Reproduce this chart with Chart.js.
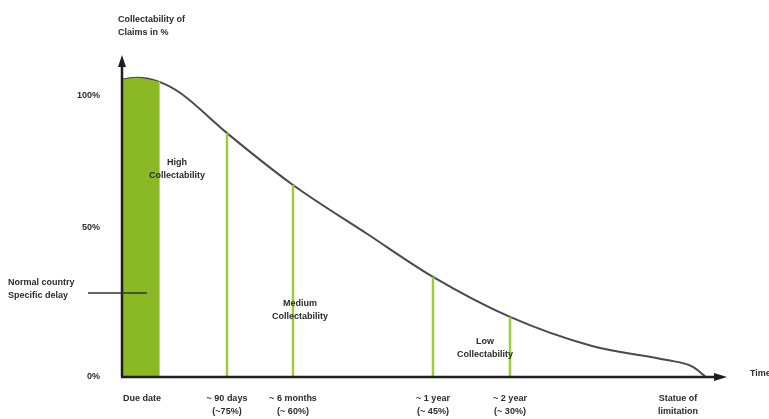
<!DOCTYPE html>
<html>
<head>
<meta charset="utf-8">
<script src="https://cdn.jsdelivr.net/npm/chart.js@4.4.0/dist/chart.umd.min.js"></script>
<style>
  body { margin: 0; background: #fff; }
  canvas { display: block; }
</style>
</head>
<body>
<canvas id="collectChart" width="769" height="419"></canvas>
<script>
// time axis is in arbitrary units (no real scale in the original diagram)
const curveX = [0, 15, 38, 58, 105, 171, 245, 311, 388, 470, 545, 570, 584];
const curveY = [105.5, 106.1, 104.6, 100.8, 86.5, 68.1, 50.8, 35.5, 21.3, 11.0, 6.0, 3.8, 0];

// green "normal delay" block
const delayX = [0, 15, 37];
const delayY = [105.5, 106.1, 104.7];

// vertical markers
const markerX = [105, 171, 311, 388];
const markerY = [86.5, 68.1, 35.5, 21.3];

// bottom labels
const timeTickX = [20, 105, 171, 311, 388, 556];
const timeTickLabels = [
    ['Due date'],
    ['~ 90 days', '(~75%)'],
    ['~ 6 months', '(~ 60%)'],
    ['~ 1 year', '(~ 45%)'],
    ['~ 2 year', '(~ 30%)'],
    ['Statue of', 'limitation']
];

// y labels
const yTickValues = [0, 53, 100];
const yTickLabels = ['0%', '50%', '100%'];

// region labels
const regionLabels = [['High', 'Collectability'], ['Medium', 'Collectability'], ['Low', 'Collectability']];
const regionAt = [[55, 76], [178, 26], [363, 12.5]];

const FONT = 'bold 9px "Liberation Sans", Arial, sans-serif';
const TEXT = '#2b2b2b';

const toPts = (xs, ys) => xs.map((x, i) => ({ x: x, y: ys[i] }));

const datasets = [
    {
        data: toPts(delayX, delayY),
        borderWidth: 0,
        backgroundColor: '#8ab925',
        fill: 'origin',
        pointRadius: 0,
        cubicInterpolationMode: 'monotone'
    },
    {
        data: [{ x: 37, y: 0 }, { x: 37, y: 104.7 }],
        borderColor: '#b8dc63',
        borderWidth: 2,
        pointRadius: 0
    }
];

markerX.forEach((x, i) => {
    datasets.push({
        data: [{ x: x, y: 0 }, { x: x, y: markerY[i] }],
        borderColor: '#9ccd3a',
        borderWidth: 2.5,
        pointRadius: 0
    });
});

datasets.push({
    data: toPts(curveX, curveY),
    borderColor: '#4a4a4a',
    borderWidth: 2,
    pointRadius: 0,
    fill: false,
    cubicInterpolationMode: 'monotone'
});

const annotate = {
    id: 'annotate',
    afterDatasetsDraw(chart) {
        const ctx = chart.ctx;
        const xs = chart.scales.x, ys = chart.scales.y;
        const x0 = xs.getPixelForValue(0), y0 = ys.getPixelForValue(0);
        const top = chart.chartArea.top, right = chart.chartArea.right;

        ctx.save();
        // axes
        ctx.strokeStyle = '#1e1e1e';
        ctx.fillStyle = '#1e1e1e';
        ctx.lineWidth = 2.5;
        ctx.beginPath();
        ctx.moveTo(x0, y0);
        ctx.lineTo(x0, top + 8);
        ctx.moveTo(x0 - 1, y0);
        ctx.lineTo(right - 8, y0);
        ctx.stroke();
        ctx.beginPath();
        ctx.moveTo(x0, top);
        ctx.lineTo(x0 - 4, top + 12);
        ctx.lineTo(x0 + 4, top + 12);
        ctx.closePath();
        ctx.fill();
        ctx.beginPath();
        ctx.moveTo(right, y0);
        ctx.lineTo(right - 13, y0 - 4);
        ctx.lineTo(right - 13, y0 + 4);
        ctx.closePath();
        ctx.fill();

        ctx.font = FONT;
        ctx.fillStyle = TEXT;
        ctx.textBaseline = 'middle';

        // y ticks
        ctx.textAlign = 'right';
        yTickValues.forEach((v, i) => {
            ctx.fillText(yTickLabels[i], 100, ys.getPixelForValue(v));
        });

        // axis titles
        ctx.textAlign = 'left';
        ctx.fillText('Collectability of', 118, 20);
        ctx.fillText('Claims in %', 118, 33);
        ctx.fillText('Time', 750, y0 - 3);

        // normal delay
        ctx.fillText('Normal country', 8, 283);
        ctx.fillText('Specific delay', 8, 296);
        ctx.strokeStyle = '#333';
        ctx.lineWidth = 1.5;
        ctx.beginPath();
        ctx.moveTo(88, 293);
        ctx.lineTo(147, 293);
        ctx.stroke();

        // time labels
        ctx.textAlign = 'center';
        timeTickX.forEach((v, i) => {
            const px = xs.getPixelForValue(v);
            timeTickLabels[i].forEach((line, j) => ctx.fillText(line, px, y0 + 22 + j * 13));
        });

        // regions
        regionLabels.forEach((lines, i) => {
            const px = xs.getPixelForValue(regionAt[i][0]);
            const py = ys.getPixelForValue(regionAt[i][1]);
            lines.forEach((line, j) => ctx.fillText(line, px, py + j * 13));
        });
        ctx.restore();
    }
};

new Chart(document.getElementById('collectChart').getContext('2d'), {
    type: 'line',
    data: { datasets: datasets },
    options: {
        responsive: false,
        animation: false,
        layout: { padding: { left: 122, right: 42, top: 55, bottom: 42 } },
        plugins: { legend: { display: false }, tooltip: { enabled: false } },
        scales: {
            x: { type: 'linear', min: 0, max: 605, display: false },
            y: { min: 0, max: 114.2, display: false }
        }
    },
    plugins: [annotate]
});
</script>
</body>
</html>
